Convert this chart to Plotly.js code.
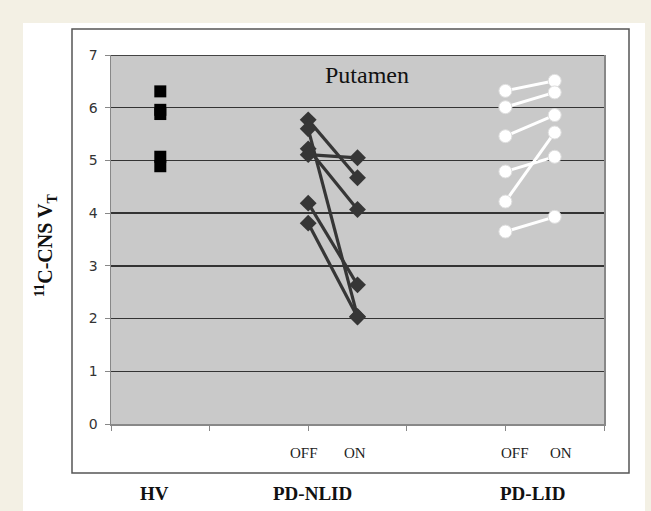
<!DOCTYPE html>
<html>
<head>
<meta charset="utf-8">
<script src="https://cdn.plot.ly/plotly-3.0.1.min.js"></script>
<style>html,body{margin:0;padding:0;background:#f3f0e4;}#chart{width:651px;height:511px;}</style>
</head>
<body>
<div id="chart"></div>
<script>
// ---- data ----
var groupLabels = ["HV", "PD-NLID", "PD-LID"];
var stateLabels = ["OFF", "ON"];
var yTickValues = [0, 1, 2, 3, 4, 5, 6, 7];
var hvValues = [6.31, 5.96, 5.88, 5.07, 4.89];
var nlidOff = [5.77, 5.60, 5.22, 5.11, 4.19, 3.81];
var nlidOn  = [4.67, 2.04, 4.07, 5.05, 2.64, 2.03];
var lidOff  = [6.32, 6.01, 5.46, 4.79, 4.22, 3.65];
var lidOn   = [6.51, 6.29, 5.86, 5.07, 5.53, 3.93];
var regionTitle = "Putamen";

// ---- layout positions on the category axis ----
var xHV = 0.5, xNOff = 2.0, xNOn = 2.5, xLOff = 4.0, xLOn = 4.5;

var traces = [];
traces.push({
  x: hvValues.map(function(){return xHV;}), y: hvValues,
  mode: "markers", type: "scatter", hoverinfo: "y",
  marker: {symbol: "square", size: 12, color: "#000"}
});
for (var i = 0; i < nlidOff.length; i++) {
  traces.push({
    x: [xNOff, xNOn], y: [nlidOff[i], nlidOn[i]],
    mode: "lines+markers", type: "scatter", hoverinfo: "y",
    line: {color: "#363636", width: 3.2},
    marker: {symbol: "diamond", size: 13, color: "#363636"}
  });
}
for (var j = 0; j < lidOff.length; j++) {
  traces.push({
    x: [xLOff, xLOn], y: [lidOff[j], lidOn[j]],
    mode: "lines+markers", type: "scatter", hoverinfo: "y",
    line: {color: "#ffffff", width: 3},
    marker: {symbol: "circle", size: 13, color: "#ffffff", line: {color: "#dedede", width: 1}}
  });
}

var L = 111, R = 604, T = 55, B = 424, W = 651, H = 511;
function px(x){ return (x - L) / (R - L); }
function py(y){ return (B - y) / (B - T); }

var serif = "Liberation Serif, Times New Roman, serif";
function stateAnn(txt, x){
  return {text: txt, x: x, y: py(453), xref: "x", yref: "paper", showarrow: false,
          xanchor: "center", yanchor: "middle",
          font: {family: serif, size: 15, color: "#222"}};
}
function groupAnn(txt, xp){
  return {text: "<b>" + txt + "</b>", x: px(xp), y: py(493), xref: "paper", yref: "paper",
          xanchor: "center", yanchor: "middle",
          showarrow: false, font: {family: serif, size: 19, color: "#111"}};
}
var annotations = [
  {text: regionTitle, x: 2.6, y: 6.62, xref: "x", yref: "y", showarrow: false,
   xanchor: "center", yanchor: "middle",
   font: {family: serif, size: 24, color: "#111"}},
  {text: "<b><sup>11</sup>C-CNS V<sub>T</sub></b>", x: px(46), y: py(246), xref: "paper", yref: "paper",
   xanchor: "center", yanchor: "middle",
   showarrow: false, textangle: -90, font: {family: serif, size: 20, color: "#111"}},
  stateAnn(stateLabels[0], 1.96), stateAnn(stateLabels[1], 2.47),
  stateAnn(stateLabels[0], 4.1), stateAnn(stateLabels[1], 4.56),
  groupAnn(groupLabels[0], 154), groupAnn(groupLabels[1], 312), groupAnn(groupLabels[2], 532)
];

var shapes = [
  {type: "rect", xref: "paper", yref: "paper", layer: "below",
   x0: px(23), x1: px(645), y0: py(H + 5), y1: py(23), fillcolor: "#ffffff", line: {width: 0}},
  {type: "rect", xref: "paper", yref: "paper", layer: "below",
   x0: px(72), x1: px(629), y0: py(473), y1: py(29), fillcolor: "#ffffff", line: {color: "#555", width: 1.5}},
  {type: "rect", xref: "paper", yref: "paper", layer: "below",
   x0: 0, x1: 1, y0: 0, y1: 1, fillcolor: "#c9c9c9", line: {width: 0}},
  {type: "line", xref: "paper", yref: "y", layer: "below",
   x0: 0, x1: 1, y0: 7, y1: 7, line: {color: "#444", width: 2}}
];

var layout = {
  width: W, height: H,
  margin: {l: L, r: W - R, t: T, b: H - B, pad: 0},
  paper_bgcolor: "#f3f0e4",
  plot_bgcolor: "rgba(0,0,0,0)",
  showlegend: false,
  xaxis: {range: [0, 5], tickvals: [0, 1, 2, 3, 4, 5], showticklabels: false,
          ticks: "outside", ticklen: 5, tickcolor: "#888", showgrid: false, zeroline: false,
          showline: true, linecolor: "#888", linewidth: 1.5, fixedrange: true},
  yaxis: {range: [0, 7], tickvals: yTickValues, ticks: "outside", ticklen: 5, tickcolor: "#888",
          ticklabelstandoff: 4,
          tickfont: {family: "DejaVu Sans", size: 14, color: "#333"},
          showgrid: true, gridcolor: "#333", gridwidth: 1.3, zeroline: false,
          showline: true, mirror: true, linecolor: "#888", linewidth: 1.5, fixedrange: true},
  annotations: annotations,
  shapes: shapes
};

Plotly.newPlot("chart", traces, layout, {displayModeBar: false, staticPlot: true});
</script>
</body>
</html>
